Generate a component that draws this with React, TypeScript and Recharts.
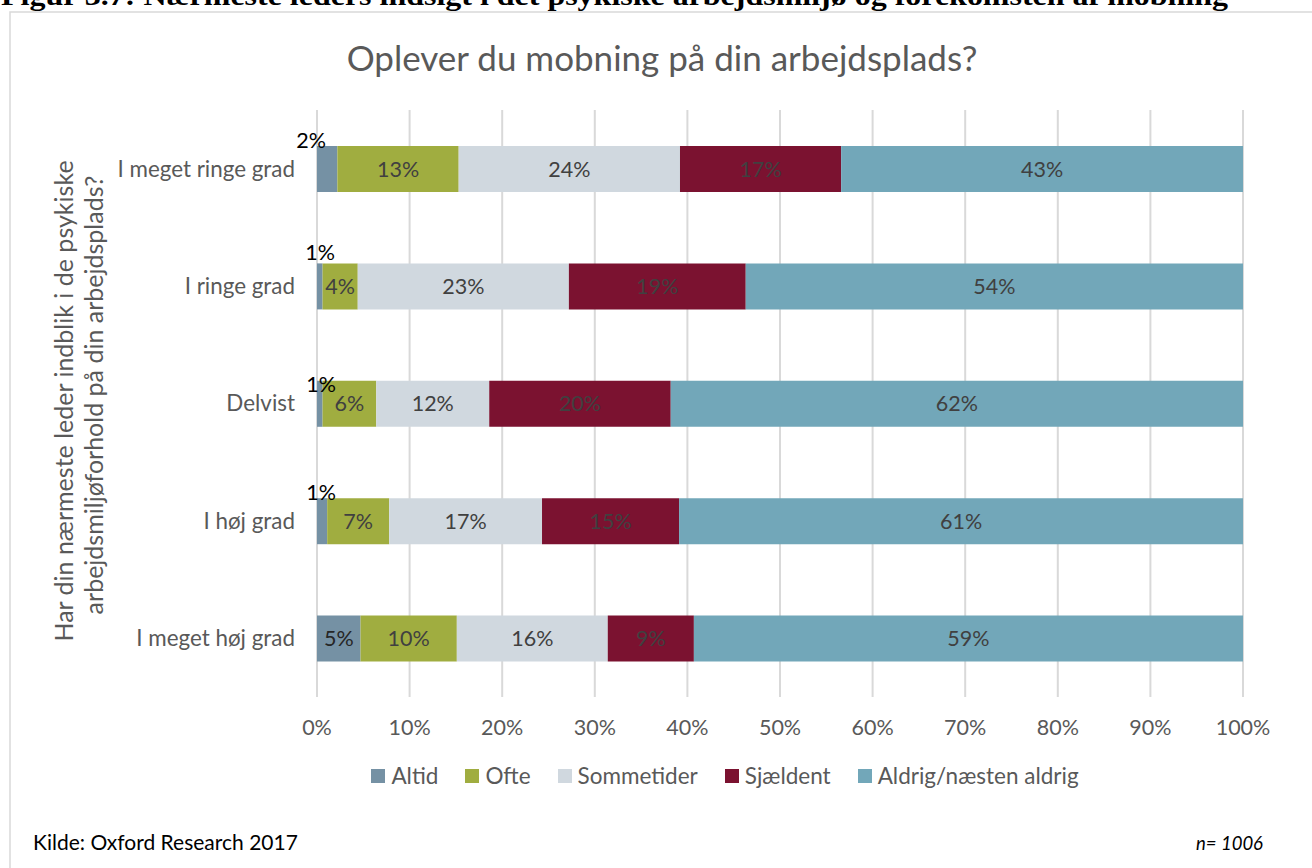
import React from 'react';
import { BarChart, Bar, XAxis, YAxis, CartesianGrid, LabelList } from 'recharts';

// answers per leader-insight group, in percent
const categories = ['I meget ringe grad', 'I ringe grad', 'Delvist', 'I høj grad', 'I meget høj grad'];
const altid = [2.2, 0.6, 0.6, 1.1, 4.7];
const ofte = [13.1, 3.8, 5.8, 6.7, 10.4];
const sommetider = [23.9, 22.8, 12.2, 16.5, 16.3];
const sjaeldent = [17.4, 19.1, 19.6, 14.8, 9.3];
const aldrig = [43.4, 53.7, 61.8, 60.9, 59.3];
const xTicks = [0, 10, 20, 30, 40, 50, 60, 70, 80, 90, 100];

const series = [
  { key: 'altid', name: 'Altid', color: '#7591A4' },
  { key: 'ofte', name: 'Ofte', color: '#A0AD40' },
  { key: 'sommetider', name: 'Sommetider', color: '#D0D8DF' },
  { key: 'sjaeldent', name: 'Sjældent', color: '#7B1230' },
  { key: 'aldrig', name: 'Aldrig/næsten aldrig', color: '#72A7B9' },
];

const data = categories.map((name, i) => ({
  name,
  altid: altid[i],
  ofte: ofte[i],
  sommetider: sommetider[i],
  sjaeldent: sjaeldent[i],
  aldrig: aldrig[i],
}));

const FONT = 'Lato, "Open Sans", sans-serif';
const GREY = '#595959';

// the tiny "Altid" labels were dragged out of the bar by hand in the original
const smallLabelNudge = [[-6, 2], [3, -3], [4, 11], [4, 2]];

const centerLabel = (fill: string) => (props: any) => {
  const { x, y, width, height, value } = props;
  return (
    <text x={x + width / 2} y={y + height / 2} dy="0.35em" textAnchor="middle"
      fill={fill} fontSize={21.5} fontFamily={FONT}>
      {Math.round(value)}%
    </text>
  );
};

const altidLabel = (props: any) => {
  const { x, y, value, index } = props;
  if (value < 3) {
    const [dx, dy] = smallLabelNudge[index] || [0, 0];
    return (
      <text x={x + dx} y={y + dy} textAnchor="middle" fill="#000" fontSize={21.5} fontFamily={FONT}>
        {Math.round(value)}%
      </text>
    );
  }
  return centerLabel('#262626')(props);
};

export default function App() {
  return (
    <div style={{ position: 'absolute', left: 0, top: 0, width: 1312, height: 868, overflow: 'hidden', background: '#fff' }}>
      <svg width={1312} height={868} style={{ position: 'absolute', left: 0, top: 0 }}>
        <text x={1} y={5} fontFamily='"Liberation Serif", serif' fontWeight="bold" fontSize={27}
          textLength={1227} lengthAdjust="spacingAndGlyphs" fill="#000">
          Figur 3.7: Nærmeste leders indsigt i det psykiske arbejdsmiljø og forekomsten af mobning
        </text>
        <rect x={10} y={12} width={1400} height={900} fill="none" stroke="#D9D9D9" strokeWidth={1.5} />
        <text x={662} y={71} textAnchor="middle" fontSize={35} fill={GREY} fontFamily={FONT}>
          Oplever du mobning på din arbejdsplads?
        </text>
        <g fontSize={25} fill={GREY} fontFamily={FONT} textAnchor="middle">
          <text transform="translate(63,401) rotate(-90)" dominantBaseline="central">
            Har din nærmeste leder indblik i de psykiske
          </text>
          <text transform="translate(93,395) rotate(-90)" dominantBaseline="central">
            arbejdsmiljøforhold på din arbejdsplads?
          </text>
        </g>
        <text x={33} y={850} fontSize={21} fill="#000" fontFamily={FONT}>Kilde: Oxford Research 2017</text>
        <text x={1263} y={850} fontSize={18.5} fill="#000" fontFamily={FONT} fontStyle="italic" textAnchor="end">
          n= 1006
        </text>
      </svg>

      <div style={{ position: 'absolute', left: 0, top: 0 }}>
        <BarChart width={1312} height={868} data={data} layout="vertical"
          margin={{ top: 110, right: 69, bottom: 141, left: 17 }}>
          <CartesianGrid horizontal={false} stroke="#D9D9D9" strokeWidth={2} />
          <XAxis type="number" domain={[0, 100]} ticks={xTicks} tickFormatter={(v) => `${v}%`}
            axisLine={false} tickLine={false} tickSize={0} tickMargin={23} height={30}
            tick={{ fill: GREY, fontSize: 21.5, fontFamily: FONT }} interval={0} />
          <YAxis type="category" dataKey="name" width={300} axisLine={false} tickLine={false}
            tickSize={0} tickMargin={22} tick={{ fill: GREY, fontSize: 22.4, fontFamily: FONT }} />
          {series.map((s) => (
            <Bar key={s.key} dataKey={s.key} name={s.name} stackId="a" fill={s.color}
              barSize={46} isAnimationActive={false}>
              <LabelList dataKey={s.key} content={s.key === 'altid' ? altidLabel : centerLabel('#404040')} />
            </Bar>
          ))}
        </BarChart>
      </div>

      <div style={{ position: 'absolute', left: 0, top: 761, width: 1450, display: 'flex', justifyContent: 'center',
        gap: 27, fontFamily: FONT, fontSize: 22.5, color: GREY, lineHeight: '30px' }}>
        {series.map((s) => (
          <div key={s.key} style={{ display: 'flex', alignItems: 'center', gap: 6 }}>
            <span style={{ width: 14, height: 14, background: s.color, display: 'inline-block' }} />
            <span>{s.name}</span>
          </div>
        ))}
      </div>
    </div>
  );
}
